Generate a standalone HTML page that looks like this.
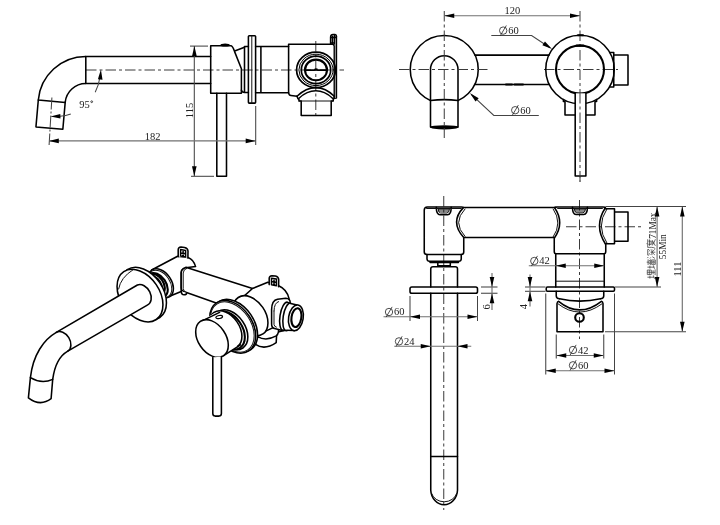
<!DOCTYPE html>
<html><head><meta charset="utf-8"><title>Wall mixer drawing</title>
<style>
html,body{margin:0;padding:0;background:#fff;}
body{width:720px;height:525px;overflow:hidden;font-family:"Liberation Serif",serif;}
svg{display:block;position:absolute;left:0;top:0;will-change:transform;filter:grayscale(1);}
.m{fill:none;stroke:#000;stroke-width:1.55;stroke-linecap:round;stroke-linejoin:round;}
.mw{fill:#fff;stroke:#000;stroke-width:1.55;stroke-linecap:round;stroke-linejoin:round;}
.k{fill:none;stroke:#000;stroke-width:2.1;stroke-linecap:round;}
.n{fill:none;stroke:#111;stroke-width:1.0;stroke-linecap:round;stroke-linejoin:round;}
.t{fill:none;stroke:#444;stroke-width:1.05;}
.g{fill:none;stroke:#707070;stroke-width:1.15;}
.c{fill:none;stroke:#3a3a3a;stroke-width:1.0;stroke-dasharray:10.5 3 3 3;}
.a{fill:#000;stroke:none;}
.d{fill:none;stroke:#222;stroke-width:0.8;}
.f{fill:#000;stroke:none;}
.cj{fill:none;stroke:#3a3a3a;stroke-width:0.75;stroke-linecap:butt;}
text{font-family:"Liberation Serif",serif;font-size:10.5px;fill:#222;}
</style></head><body>
<svg width="720" height="525" viewBox="0 0 720 525">
<rect x="0" y="0" width="720" height="525" fill="#fff"/>
<g id="v1">
<path class="c" d="M86,70 H344"/>
<path class="c" d="M315.8,41 V117"/>
<path class="m" d="M85.8,56.5 H210.7 M85.8,83.5 H210.7 M85.8,56.5 V83.5"/>
<path class="m" d="M85.8,56.5 A47.7,47.7 0 0 0 38.3,100 L65.2,102.4 A20.7,20.7 0 0 1 85.8,83.5"/>
<path class="m" d="M38.3,100 L35.95,126.9 L62.85,129.3 L65.2,102.4"/>
<path class="t" stroke-dasharray="12 2 2 2" d="M51.9,97.5 L49.1,145"/>
<path class="m" d="M231.2,45.7 H210.7 V93.2 H241.4 V68.8 L234.6,51.6 Q232.8,46.2 231.2,45.7"/>
<ellipse class="f" cx="225.1" cy="45" rx="4.6" ry="1.5"/>
<path class="m" d="M234.7,51 L244.5,47.2"/>
<path class="m" d="M244.5,46.4 V92.4 M244.5,46.4 H248.4 M241.4,90.2 Q242,92.4 244.5,92.4 H248.4"/>
<rect class="m" x="248.4" y="35.8" width="7.2" height="67.3" rx="0.8"/>
<path class="n" d="M251.8,36 V103"/>
<path class="m" d="M255.6,46.4 H288.6 M255.6,92.7 H288.6 M260.9,46.4 V92.7"/>
<path class="m" d="M288.6,92.5 V44.2 H332.6 Q334.2,44.4 334.3,46.4 V97.5 M288.6,92.5 Q288.8,95.3 291,95.5 L297,96.3"/>
<path class="m" d="M336.4,36 V98 L334.3,98.3"/>
<path class="m" d="M330.6,44 V37 Q330.8,34.6 333,34.5 H335 Q336.4,34.6 336.4,36.5"/>
<path class="m" style="stroke-width:1.5" d="M332.4,36.2 V43.6 M334.4,35.6 V44 M331,37.6 H336 M331,43 H334.4"/>
<path d="M335.35,44 V98" stroke="#8a8a8a" stroke-width="1" fill="none"/>
<ellipse class="m" cx="316" cy="69.9" rx="19.4" ry="17.7" style="stroke-width:1.7"/>
<ellipse class="m" cx="316" cy="69.9" rx="17.1" ry="15.7" style="stroke-width:1.0"/>
<ellipse class="m" cx="316" cy="69.9" rx="14.7" ry="13.7" style="stroke-width:1.7"/>
<ellipse class="m" cx="316" cy="69.9" rx="11.0" ry="10.3" style="stroke-width:2.1"/>
<path class="m" d="M306,70.1 H314.6 L315.2,69 L316,70.1 L316.8,69 L317.4,70.1 H326"/>
<path class="m" d="M297,96.3 Q306,87.6 315.8,87.6 Q325.6,87.6 334.3,96.3"/>
<path class="m" d="M299,98.2 Q307,90.8 315.8,90.8 Q324.6,90.8 332.5,98.2"/>
<path class="m" d="M297,96.3 Q297.6,98.6 299,99.6 V101 H301.2 V115.5 H331.2 V101 H333.2 V99.4 Q334.4,98.6 334.3,96.3"/>
<path class="n" d="M299,101 H333"/>
<path class="m" d="M216.8,93.2 V176.2 H226.5 V93.2"/>
<path class="t" d="M190.00,46.10 L208.00,46.10"/>
<path class="t" d="M191.00,176.30 L214.00,176.30"/>
<path class="t" d="M194.3,46 V176"/>
<polygon class="a" points="194.40,46.10 196.70,56.10 192.10,56.10"/>
<polygon class="a" points="194.30,176.30 192.00,166.30 196.60,166.30"/>
<text x="192.50" y="110.50" text-anchor="middle" transform="rotate(-90 192.50 110.50)">115</text>
<path class="g" d="M49,140.9 H255.6"/>
<polygon class="a" points="48.80,140.90 58.80,138.60 58.80,143.20"/>
<polygon class="a" points="255.70,140.90 245.70,143.20 245.70,138.60"/>
<path class="t" d="M255.70,106.00 L255.70,145.00"/>
<text x="152.60" y="139.60" text-anchor="middle">182</text>
<path class="t" d="M100,77 Q98.6,86 95.2,92.3"/>
<polygon class="a" points="100.90,69.50 102.50,79.64 97.91,79.32"/>
<path class="t" d="M60,116.2 Q66,115.8 70.8,114"/>
<polygon class="a" points="50.40,116.60 60.31,113.95 60.47,118.55"/>
<text x="79.20" y="107.80" text-anchor="start">95</text>
<circle class="d" cx="91.7" cy="101.7" r="0.9" stroke-width="0.8"/>
</g>
<g id="v2">
<path class="c" d="M580,11 V182"/>
<path class="c" d="M544,69.5 H618"/>
<circle class="m" cx="444.25" cy="69.5" r="34"/>
<path class="mw" d="M430.5,127 V69.5 A13.75,13.75 0 0 1 458,69.5 V127 Z"/>
<path class="m" d="M430.5,100.4 Q444.25,98.9 458,100.4"/>
<ellipse class="f" cx="444.3" cy="127.3" rx="14.2" ry="2.1"/>
<path class="c" d="M444.25,11 V138"/>
<path class="c" d="M399,69.5 H489"/>
<path class="m" d="M475,55.1 H549 M474.7,84.5 H549.2"/>
<path class="k" stroke-width="1.9" d="M506,84.5 H512 M514.5,84.5 H523"/>
<circle class="m" cx="580" cy="69.5" r="34.25"/>
<circle class="k" cx="580" cy="69.5" r="24"/>
<path class="k" d="M576.5,45.6 H583.5 M578,35.2 H583"/>
<path class="m" d="M609.8,52.5 H613.75 V87 H609.8 M613.75,55 H628 V85 H613.75"/>
<path class="m" d="M563.4,99.4 V101.5 H565 V115 H595 V101.5 H596.6 V99.4"/>
<path class="mw" d="M575.2,93.3 V176 H585.9 V93.3"/>
<path class="c" d="M580,93 V182"/>
<path class="g" d="M444.25,15.7 H580"/>
<polygon class="a" points="444.25,15.70 454.25,13.40 454.25,18.00"/>
<polygon class="a" points="580.00,15.70 570.00,18.00 570.00,13.40"/>
<text x="512.30" y="14.40" text-anchor="middle">120</text>
<path class="t" d="M491.3,35.5 H531.6 L550,47.7"/>
<polygon class="a" points="552.00,49.00 542.40,45.37 544.96,41.54"/>
<circle class="d" cx="503.20" cy="30.60" r="3.70"/><path class="d" d="M500.31,35.71 L506.34,25.49"/>
<text x="508.20" y="34.00" text-anchor="start">60</text>
<path class="t" d="M538.8,115.5 H493.8 L471.5,94.6"/>
<polygon class="a" points="469.80,93.00 478.68,98.14 475.54,101.50"/>
<circle class="d" cx="515.20" cy="110.20" r="3.70"/><path class="d" d="M512.31,115.31 L518.35,105.09"/>
<text x="520.20" y="113.60" text-anchor="start">60</text>
</g>
<g id="v3">
<path class="c" d="M443.75,196 V510"/>
<path class="c" d="M579.5,200 V339"/>
<path class="c" d="M566,226.75 H643"/>
<path class="m" d="M427.5,207 H461.5 Q463.5,207 463.4,207.6 Q449.6,222 463.75,237.5 V252 Q463.7,254.4 461.3,254.5 H427 Q424.3,254.4 424.25,252 V210 Q424.3,207.1 427.5,207 Z"/>
<path class="m" d="M436.3,207.3 Q436.3,214.8 440,214.8 H447.6 Q451.2,214.8 451.2,207.3"/>
<path class="n" d="M438,208.3 Q438.3,213 440.6,213 H447 Q449.3,213 449.6,208.3 M438.5,209.2 H449 M439,211 H448.6"/>
<path class="m" d="M463.6,207.5 H556 M463.75,237.5 H554.25"/>
<path class="m" d="M427,254.5 V259 Q427.2,261.2 429.5,261.25 H458.8 Q461.1,261.2 461.25,259 V254.5"/>
<path class="m" style="stroke-width:1.9" d="M430.2,262.3 H458.3"/>
<path class="m" d="M437.8,263 V265.8 H450.3 V263"/>
<path class="n" d="M426.6,208.5 H461.3 M465,209 Q452,222.5 465,236.4"/>
<path class="m" d="M430.75,287 V268.7 Q430.9,266.7 433,266.65 H455.3 Q457.4,266.7 457.5,268.7 V287"/>
<rect class="m" x="410" y="287" width="67.5" height="6.25" rx="1.8"/>
<path class="m" d="M430.75,293.25 V490.3 A13.4,15.4 0 0 0 457.5,490.3 V293.25"/>
<path class="n" d="M431.6,493.5 A13,11.2 0 0 0 456.7,493.5"/>
<path class="m" d="M430.75,456.5 H457.5"/>
<path class="m" d="M557,207 H603 Q605.6,207 605.4,207.8 Q593.4,226 605.75,244.5 V251.6 Q605.7,253.7 604.25,253.75 V287 M557,207 Q554.4,207 554.6,207.8 Q565,223 554.25,238.2 V251.6 Q554.3,253.7 555.75,253.75 V287"/>
<path class="n" d="M557.6,208.5 H602.4 M553.2,209 Q562.8,223 553,237.2 M606.8,209.2 Q595.6,226 607,243.2 M555.75,281.2 H604.25"/>
<path class="m" d="M555.75,253.75 H604.25"/>
<path class="m" d="M572.5,207.3 Q572.5,214.5 576,214.5 H583.7 Q587.4,214.5 587.4,207.3"/>
<path class="n" d="M574.2,208.3 Q574.5,212.8 576.8,212.8 H583 Q585.3,212.8 585.6,208.3 M574.6,209.2 H585.2 M575.2,211 H584.7"/>
<path class="m" d="M604.6,208.75 H614.5 V243.75 H605.5 M614.5,212 H628 V241.25 H614.5"/>
<rect class="m" x="546.25" y="287" width="68.25" height="4.25" rx="1.2"/>
<path class="m" d="M556.25,291.25 V296 Q556.4,298.6 559.5,298.75 M603.75,291.25 V296 Q603.6,298.6 600.5,298.75"/>
<path class="m" d="M559.5,298.75 Q579.5,303.5 600.5,298.75"/>
<path class="m" d="M557,331.75 V303.5 Q557.3,301.6 558.6,301.3 Q579.5,318.5 601.4,301.3 Q602.8,301.6 603,303.5 V331.75 Z"/>
<path class="n" d="M558,303.8 Q579.5,320.5 602,303.8"/>
<circle class="k" cx="579.5" cy="317.5" r="4.3" stroke-width="1.6"/>
<path class="g" d="M528.8,265.75 H604.25"/>
<polygon class="a" points="555.75,265.75 565.75,263.45 565.75,268.05"/>
<polygon class="a" points="604.25,265.75 594.25,268.05 594.25,263.45"/>
<circle class="d" cx="534.30" cy="261.00" r="3.70"/><path class="d" d="M531.41,266.11 L537.44,255.89"/>
<text x="539.30" y="264.40" text-anchor="start">42</text>
<path class="t" d="M525.00,287.00 L545.50,287.00"/>
<path class="t" d="M525.00,291.30 L545.50,291.30"/>
<path class="g" d="M530,274.5 V306.5"/>
<polygon class="a" points="530.00,287.00 527.70,277.00 532.30,277.00"/>
<polygon class="a" points="530.00,291.30 532.30,301.30 527.70,301.30"/>
<text x="527.30" y="306.50" text-anchor="middle" transform="rotate(-90 527.30 306.50)">4</text>
<path class="t" d="M481.00,287.00 L497.50,287.00"/>
<path class="t" d="M481.00,293.25 L497.50,293.25"/>
<path class="g" d="M492,273 V310"/>
<polygon class="a" points="492.00,287.00 489.70,277.00 494.30,277.00"/>
<polygon class="a" points="492.00,293.25 494.30,303.25 489.70,303.25"/>
<text x="490.20" y="306.80" text-anchor="middle" transform="rotate(-90 490.20 306.80)">6</text>
<path class="t" d="M410.00,296.00 L410.00,321.00"/>
<path class="t" d="M477.50,296.00 L477.50,321.00"/>
<path class="g" d="M383.5,316.75 H477.5"/>
<polygon class="a" points="410.00,316.75 420.00,314.45 420.00,319.05"/>
<polygon class="a" points="477.50,316.75 467.50,319.05 467.50,314.45"/>
<circle class="d" cx="389.00" cy="312.00" r="3.70"/><path class="d" d="M386.11,317.11 L392.14,306.89"/>
<text x="394.00" y="315.40" text-anchor="start">60</text>
<path class="g" d="M394.25,346.25 H471.25"/>
<polygon class="a" points="430.75,346.25 420.75,348.55 420.75,343.95"/>
<polygon class="a" points="457.50,346.25 467.50,343.95 467.50,348.55"/>
<circle class="d" cx="399.00" cy="341.40" r="3.70"/><path class="d" d="M396.11,346.51 L402.14,336.29"/>
<text x="404.00" y="344.80" text-anchor="start">24</text>
<path class="t" d="M605.50,206.40 L686.00,206.40"/>
<path class="t" d="M605.00,331.75 L686.00,331.75"/>
<path class="g" d="M682.3,207 V331.5"/>
<polygon class="a" points="682.30,206.60 684.60,216.60 680.00,216.60"/>
<polygon class="a" points="682.30,331.70 680.00,321.70 684.60,321.70"/>
<text x="680.60" y="269.00" text-anchor="middle" transform="rotate(-90 680.60 269.00)">111</text>
<path class="t" d="M615.00,287.00 L661.00,287.00"/>
<path class="g" d="M657.1,207 V287"/>
<polygon class="a" points="657.10,206.60 659.40,216.60 654.80,216.60"/>
<polygon class="a" points="657.10,287.00 654.80,277.00 659.40,277.00"/>
<text textLength="26.3" lengthAdjust="spacingAndGlyphs" x="655.60" y="238.80" text-anchor="start" transform="rotate(-90 655.60 238.80)">71Max</text>
<text textLength="25" lengthAdjust="spacingAndGlyphs" x="665.80" y="259.20" text-anchor="start" transform="rotate(-90 665.80 259.20)">55Min</text>
<path class="cj" transform="translate(655.7 279.00) rotate(-90)" d="M1.8,-8.3 V-1.6 M0.4,-5.8 H3.3 M0.2,-1.2 L3.6,-2.4 M4.4,-8.4 H9 V-4.4 H4.4 Z M4.4,-6.4 H9 M6.7,-8.4 V-0.7 M4.7,-2.6 H8.8 M3.9,-0.6 H9.6"/>
<path class="cj" transform="translate(655.7 268.95) rotate(-90)" d="M1.8,-8.3 V-1.6 M0.4,-5.8 H3.3 M0.2,-1.2 L3.6,-2.4 M4,-7.6 H9.6 M6.8,-9 V-5.2 M5,-6.8 L5.6,-5.4 M8.6,-6.8 L8,-5.4 M3.9,-5 H9.7 M4.6,-4 H9 V-0.4 H4.6 Z M5.9,-2.9 H7.7 V-1.5 H5.9 Z"/>
<path class="cj" transform="translate(655.7 258.90) rotate(-90)" d="M0.8,-8.4 L1.9,-7.4 M0.4,-5.8 L1.5,-4.9 M0.5,-0.8 L2.2,-3.4 M3.8,-6.6 V-8 H9.4 V-6.6 M5.6,-7 L4.4,-5.2 M7.4,-7 L9,-5.3 M3.8,-3.8 H9.6 M6.7,-5.2 V-0.4 M6.5,-3.6 L4,-0.9 M6.9,-3.6 L9.6,-0.9"/>
<path class="cj" transform="translate(655.7 248.85) rotate(-90)" d="M5.2,-9.2 V-8.2 M1.4,-8 H9.6 M1.5,-8 V-4 Q1.4,-1.6 0.3,-0.4 M3,-6.2 H9.4 M4.5,-7.3 V-4.4 M7.7,-7.3 V-4.4 M4.5,-4.6 H7.7 M3.4,-3.4 H8.4 L3,-0.3 M4.4,-2.6 L9.6,-0.3"/>
<path class="t" d="M556.25,334.50 L556.25,358.50"/>
<path class="t" d="M603.75,334.50 L603.75,358.50"/>
<path class="g" d="M556.25,355.5 H603.75"/>
<polygon class="a" points="556.25,355.50 566.25,353.20 566.25,357.80"/>
<polygon class="a" points="603.75,355.50 593.75,357.80 593.75,353.20"/>
<circle class="d" cx="573.00" cy="350.00" r="3.70"/><path class="d" d="M570.11,355.11 L576.14,344.89"/>
<text x="578.00" y="353.60" text-anchor="start">42</text>
<path class="t" d="M545.75,293.50 L545.75,374.50"/>
<path class="t" d="M614.50,293.50 L614.50,374.50"/>
<path class="g" d="M545.75,370.75 H614.5"/>
<polygon class="a" points="545.75,370.75 555.75,368.45 555.75,373.05"/>
<polygon class="a" points="614.50,370.75 604.50,373.05 604.50,368.45"/>
<circle class="d" cx="573.00" cy="365.30" r="3.70"/><path class="d" d="M570.11,370.41 L576.14,360.19"/>
<text x="578.00" y="368.90" text-anchor="start">60</text>
</g>
<g id="v4">
<path class="mw" d="M151.6,270 L177.6,256.2 L188,257.4 Q193.6,259.4 195.6,266.6 L185.8,267.7 Q181.4,268.5 181.2,272.8 V291.5 L169.6,296.2 Z"/>
<path class="mw" d="M178.2,256.6 V249.8 Q178.3,247.2 181,247 L184.6,247.4 Q187.8,248 188,251 L187.9,258"/>
<path class="m" style="stroke-width:1.5" d="M180.6,249.6 L185.6,250.4 V257 L180.6,256 Z M183.1,250 V256.5 M180.6,252.9 L185.6,253.8"/>
<path class="mw" d="M185.8,267.3 L252.5,288.5 L236,310 L185.8,292.2 Q181.4,291.6 181.2,288 V272.8 Q181.4,268.5 185.8,267.7 Z"/>
<path class="n" d="M187,268.2 Q183.3,269.3 183.2,273 V288.5 Q183.4,291.5 186.6,292.8"/>
<path class="mw" d="M181.3,291.2 Q181.3,294.8 184,294.8 Q186.6,294.8 186.6,292.9" stroke-width="1"/>
<path class="mw" d="M252.5,288.5 L267.8,282.2 L278.6,285.8 Q286.6,289.2 289,298.4 L286,330 L262,336 L239,300.6 Z"/>
<path class="mw" d="M269.2,284.6 V278.4 Q269.3,275.9 272,275.7 L275.4,276.1 Q278.5,276.7 278.7,279.6 L278.6,286.8"/>
<path class="m" style="stroke-width:1.5" d="M271.5,278.3 L276.4,279.1 V285.7 L271.5,284.7 Z M274,278.7 V285.2 M271.5,281.6 L276.4,282.5"/>
<path class="mw" d="M257,337.5 L255.5,344.4 Q264.6,350.6 276.2,342.6 L276.6,335 Z"/>
<path class="mw" d="M257.9,334.9 L272.6,327.9 Q276,326.8 278.7,328.2 L278.4,332.2 Q278,334.5 276.2,335.9 Q266,341.6 257.6,336.6 Z"/>
<ellipse class="mw" cx="250.60" cy="315.70" rx="22.00" ry="14.70" transform="rotate(55.8 250.60 315.70)" />
<path class="mw" d="M271.6,309.5 Q271.8,300.2 277.5,299.2 L285.8,298.3 Q290.5,298.6 290.2,303 L288,327 Q287,331 282.5,330.4 L275.5,328.8 Q271.4,328 271.6,324 Z"/>
<path class="n" d="M274,311 Q274.2,302.6 278.6,301.6 M274,311 V324.5 Q274.2,326.6 276.4,327.2"/>
<ellipse class="mw" cx="285.20" cy="316.20" rx="5.20" ry="14.20" transform="rotate(9.0 285.20 316.20)" />
<ellipse class="mw" cx="288.20" cy="316.90" rx="5.00" ry="13.90" transform="rotate(9.0 288.20 316.90)" />
<path d="M289.4,303.2 L297,305 L294.8,330.6 L286.6,330.2 Z" fill="#fff" stroke="none"/>
<path class="m" d="M289.6,303.2 L297,305.1 M286.8,330.3 L294.2,330.6"/>
<ellipse class="mw" cx="295.90" cy="317.80" rx="7.30" ry="13.00" transform="rotate(9.0 295.90 317.80)" />
<ellipse class="k" cx="296.40" cy="317.60" rx="4.90" ry="9.50" transform="rotate(9.0 296.40 317.60)" />
<ellipse class="mw" cx="160.80" cy="283.40" rx="16.00" ry="10.69" transform="rotate(55.8 160.80 283.40)" />
<ellipse class="n" cx="159.90" cy="283.90" rx="15.10" ry="10.09" transform="rotate(55.8 159.90 283.90)" />
<ellipse class="k" cx="157.20" cy="285.20" rx="13.40" ry="8.95" transform="rotate(55.8 157.20 285.20)" />
<ellipse class="k" cx="155.70" cy="284.40" rx="11.60" ry="7.75" transform="rotate(55.8 155.70 284.40)" />
<ellipse class="m" cx="154.20" cy="285.40" rx="10.40" ry="6.95" transform="rotate(55.8 154.20 285.40)" />
<ellipse class="mw" cx="143.50" cy="293.60" rx="28.90" ry="19.60" transform="rotate(55.8 143.50 293.60)" />
<ellipse class="mw" cx="140.00" cy="295.60" rx="28.90" ry="19.60" transform="rotate(55.8 140.00 295.60)" />
<path class="n" d="M118.6,289 Q120.6,277.5 133,269.8"/>
<path class="mw" d="M137.4,285 L56.3,332.4 C44,339.5 33,354.5 30.4,377.7 L28.4,397.8 Q40.2,407 51.1,398.7 L52.7,379.4 C54.5,366 60,355.5 67.8,351.1 L147.3,305.1 A11.2,8 60 0 0 137.4,285 Z"/>
<path class="m" d="M56.3,332.4 A10.6,7.6 57.8 0 1 67.8,351.1"/>
<path class="m" d="M30.4,377.7 Q41.6,384.4 52.7,379.4"/>
<ellipse class="mw" cx="234.60" cy="325.70" rx="28.90" ry="19.60" transform="rotate(55.8 234.60 325.70)" />
<ellipse class="mw" cx="232.70" cy="326.80" rx="28.90" ry="19.60" transform="rotate(55.8 232.70 326.80)" />
<ellipse class="n" cx="232.30" cy="327.00" rx="27.60" ry="18.60" transform="rotate(55.8 232.30 327.00)" />
<ellipse class="mw" cx="230.50" cy="329.80" rx="22.00" ry="14.70" transform="rotate(55.8 230.50 329.80)" />
<ellipse class="k" cx="228.30" cy="330.40" rx="21.00" ry="14.03" transform="rotate(55.8 228.30 330.40)" />
<ellipse class="mw" cx="225.60" cy="329.60" rx="20.70" ry="13.83" transform="rotate(55.8 225.60 329.60)" />
<path d="M200.4,321.4 L214.2,313.2 L237.4,347 L223.6,355.6 Z" fill="#fff" stroke="none"/>
<path class="m" d="M200.6,321.6 L219.6,312.4 M223.6,355.6 L240.5,344.8"/>
<ellipse class="mw" cx="212.00" cy="338.50" rx="20.70" ry="13.83" transform="rotate(55.8 212.00 338.50)" />
<ellipse class="mw" cx="219.2" cy="317" rx="3.4" ry="1.5" transform="rotate(-12 219.2 317)" style="stroke-width:1.2"/>
<path class="mw" d="M212.8,357.6 V413.5 Q212.9,416 215,416.1 H219.2 Q221.3,416 221.4,413.5 V356.6"/>
</g>
</svg>
</body></html>
